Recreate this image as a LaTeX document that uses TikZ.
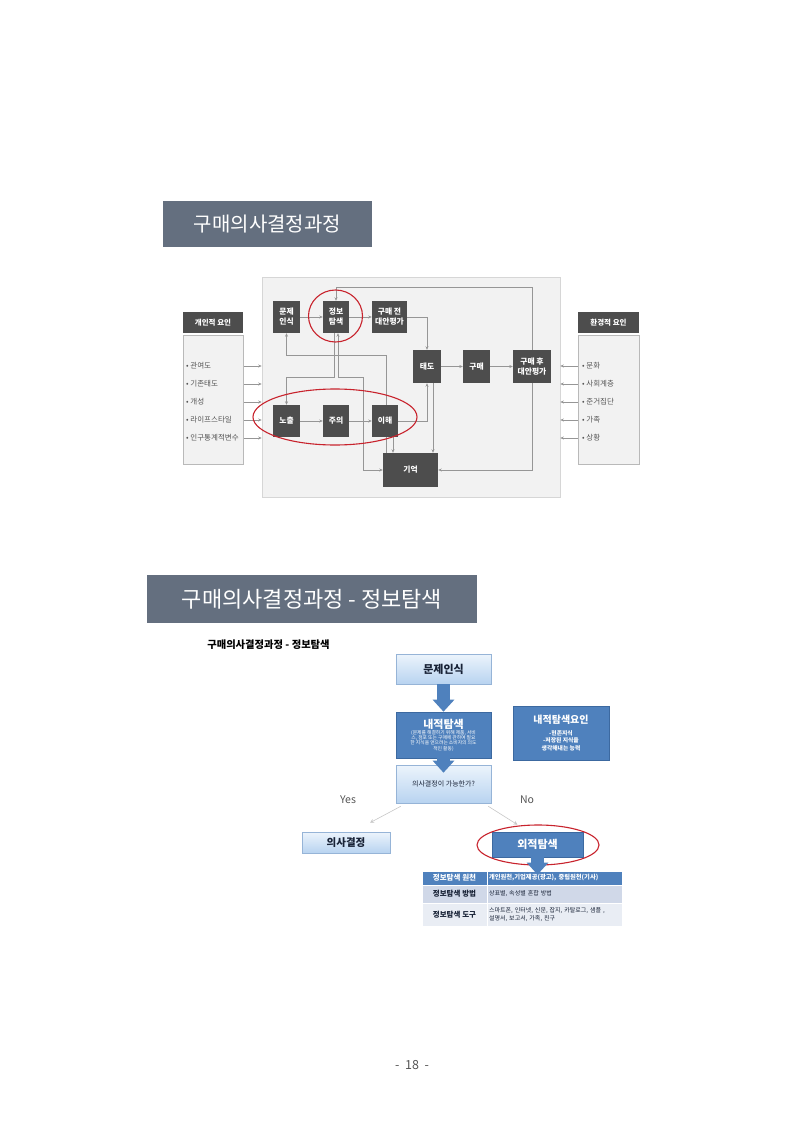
\documentclass[tikz,border=0pt]{standalone}
\usepackage{fontspec}
\setmainfont{Noto Sans CJK KR}
\usetikzlibrary{arrows.meta}
\definecolor{titleSlate}{RGB}{100,111,127}
\definecolor{boxDark}{RGB}{77,77,77}
\definecolor{panelGray}{RGB}{242,242,242}
\definecolor{panelEdge}{RGB}{214,214,214}
\definecolor{listEdge}{RGB}{185,185,185}
\definecolor{lineGray}{RGB}{150,150,150}
\definecolor{itemGray}{RGB}{85,85,85}
\definecolor{ringRed}{RGB}{200,35,45}
\definecolor{stepBlue}{RGB}{79,129,189}
\definecolor{stepEdge}{RGB}{60,105,160}
\definecolor{paleTop}{RGB}{236,244,252}
\definecolor{paleBot}{RGB}{184,211,240}
\definecolor{paleEdge}{RGB}{150,180,215}
\definecolor{navyText}{RGB}{25,35,55}
\definecolor{rowMid}{RGB}{208,216,232}
\definecolor{rowLow}{RGB}{233,237,244}
\definecolor{hintGray}{RGB}{200,200,200}

\pgfdeclarelayer{back}
\pgfdeclarelayer{lines}
\pgfsetlayers{back,lines,main}

\begin{document}
\begin{tikzpicture}[x=1pt,y=-1pt,
  every node/.style={inner sep=0pt},
  titlebox/.style={fill=titleSlate,text=white},
  darkbox/.style={fill=boxDark,text=white,align=center,
    font=\fontsize{7.8}{10}\selectfont\bfseries},
  listbox/.style={fill=panelGray,draw=listEdge,line width=0.6pt},
  listitem/.style={text=itemGray,anchor=west,font=\fontsize{7.5}{8}\selectfont},
  flow/.style={draw=lineGray,line width=0.6pt,-{Stealth[length=3.5pt,width=3pt]}},
  flowboth/.style={draw=lineGray,line width=0.6pt,{Stealth[length=3.5pt,width=3pt]}-{Stealth[length=3.5pt,width=3pt]}},
  ring/.style={draw=ringRed,line width=1.1pt},
  palebox/.style={top color=paleTop,bottom color=paleBot,draw=paleEdge,line width=0.6pt,
    text=navyText,align=center},
  bluebox/.style={fill=stepBlue,draw=stepEdge,line width=0.6pt,text=white,align=center},
  barrow/.style={draw=stepBlue,line width=13pt,-{Triangle[width=21pt,length=12pt]}},
  hint/.style={draw=hintGray,line width=0.6pt,-{Stealth[length=4pt,width=4pt]}},
  tcell/.style={draw=white,line width=0.8pt}]

\begin{pgfonlayer}{back}
  \fill[white] (0,0) rectangle (800,1131);
  \node[fill=panelGray,draw=panelEdge,line width=0.6pt,minimum width=298pt,minimum height=220pt] (panel) at (411,387) {};
\end{pgfonlayer}
\useasboundingbox (0,0) rectangle (800,1131);

% first section
\node[titlebox,minimum width=209pt,minimum height=46pt,font=\fontsize{20}{22}\selectfont] (t1) at (267.5,224) {구매의사결정과정};

\node[fill=boxDark,text=white,minimum width=60pt,minimum height=21pt,font=\fontsize{7.5}{9}\selectfont\bfseries] (pf) at (213,322.5) {개인적 요인};
\node[listbox,minimum width=60pt,minimum height=129pt] (pl) at (213,399.5) {};
\foreach \t [count=\i] in {관여도,기존태도,개성,라이프스타일,인구통계적변수}
  \node[listitem] (pi\i) at (186,348+18*\i) {• \t};

\node[fill=boxDark,text=white,minimum width=61pt,minimum height=21pt,font=\fontsize{7.5}{9}\selectfont\bfseries] (ef) at (608.5,322.5) {환경적 요인};
\node[listbox,minimum width=61pt,minimum height=129pt] (el) at (608.5,399.5) {};
\foreach \t [count=\i] in {문화,사회계층,준거집단,가족,상황}
  \node[listitem] (ei\i) at (582,348+18*\i) {• \t};

\node[darkbox,minimum width=27pt,minimum height=32pt] (pr) at (286.5,317) {문제\\인식};
\node[darkbox,minimum width=26pt,minimum height=32pt] (ps) at (336,317) {정보\\탐색};
\node[darkbox,minimum width=35pt,minimum height=32pt] (pe) at (389.5,317) {구매 전\\대안평가};
\node[darkbox,minimum width=27pt,minimum height=32pt] (ex) at (286.5,421) {노출};
\node[darkbox,minimum width=26pt,minimum height=32pt] (at) at (336,421) {주의};
\node[darkbox,minimum width=26pt,minimum height=32pt] (co) at (385,421) {이해};
\node[darkbox,minimum width=28pt,minimum height=33pt] (tt) at (427,366.5) {태도};
\node[darkbox,minimum width=27pt,minimum height=33pt] (bu) at (476.5,366.5) {구매};
\node[darkbox,minimum width=38pt,minimum height=33pt] (po) at (532,366.5) {구매 후\\대안평가};
\node[darkbox,minimum width=55pt,minimum height=34pt] (me) at (410.5,470) {기억};

\begin{pgfonlayer}{lines}
  \foreach \i in {1,...,5} {
    \draw[flow] (pl.east |- pi\i) -- (panel.west |- pi\i);
    \draw[flow] (el.west |- ei\i) -- (panel.east |- ei\i);
  }
  \draw[flow] (pr) -- (ps);
  \draw[flow] (ps) -- (pe);
  \draw[flow] (pe.east) -| (tt.north);
  \draw[flow] (tt) -- (bu);
  \draw[flow] (bu) -- (po);
  \draw[flow] (po.north) -- ++(0,-62) -| (ps.north);
  \draw[flow] (po.south) |- (me.east);
  \draw[flow] (ex) -- (at);
  \draw[flow] (at) -- (co);
  \draw[flow] (co.east) -| (tt.south);
  \draw[flow] ([xshift=6pt]tt.south) -- ([xshift=6pt]tt.south |- me.north);
  \draw[flow] ([xshift=8pt]co.south) -- ([xshift=8pt]co.south |- me.north);
  \draw[flow] ([xshift=1pt]co.south |- me.north) -- ++(0,-98) -| (pr.south);
  \draw[flow] ([xshift=-1.5pt]ps.south) -- ++(0,44) -| (ex.north);
  \draw[flowboth] ([xshift=2pt]ps.south) -- ++(0,44) -- ++(25,0) |- (me.west);
\end{pgfonlayer}

\draw[ring] (335.5,316) ellipse [x radius=27pt, y radius=26pt];
\draw[ring] (335,417) ellipse [x radius=82pt, y radius=28pt];

% second section
\node[titlebox,minimum width=330pt,minimum height=48pt,font=\fontsize{22}{24}\selectfont] (t2) at (312,599) {구매의사결정과정 - 정보탐색};
\node[font=\fontsize{10.3}{12}\selectfont\bfseries] (sub) at (268.5,645) {구매의사결정과정 - 정보탐색};

\node[palebox,minimum width=95pt,minimum height=30pt,font=\fontsize{11}{13}\selectfont\bfseries] (q1) at (443.5,669) {문제인식};
\node[bluebox,minimum width=95pt,minimum height=46pt,font=\fontsize{4.8}{5.2}\selectfont] (q2) at (443.5,735)
  {{\fontsize{11}{13}\selectfont\bfseries 내적탐색}\\[1pt](문제를 해결하기 위해 제품, 서비\\스, 점포 또는 구매에 관하여 필요\\한 지식을 얻으려는 소비자의 의도\\적인 활동)};
\node[palebox,minimum width=95pt,minimum height=38pt,font=\fontsize{7}{9}\selectfont] (q3) at (443.5,784) {의사결정이 가능한가?};
\node[bluebox,minimum width=96pt,minimum height=54pt,font=\fontsize{5.8}{7.5}\selectfont\bfseries] (q4) at (561,733)
  {{\fontsize{10}{12}\selectfont\bfseries 내적탐색요인}\\[4pt]-현존지식\\-저장된 지식을\\생각해내는 능력};
\node[palebox,minimum width=88pt,minimum height=21pt,font=\fontsize{10.5}{12}\selectfont\bfseries] (q5) at (346,842.5) {의사결정};
\node[bluebox,minimum width=91pt,minimum height=25pt,font=\fontsize{11}{13}\selectfont\bfseries] (q6) at (537.5,844.5) {외적탐색};

\node[text=itemGray,font=\fontsize{10.5}{12}\selectfont] (yes) at (348,800) {Yes};
\node[text=itemGray,font=\fontsize{10.5}{12}\selectfont] (no) at (527,800) {No};

\draw[hint] ([xshift=5pt,yshift=-3pt]q3.south west) -- ([xshift=24pt,yshift=9pt]q5.north);
\draw[hint] ([xshift=-3pt,yshift=-3pt]q3.south east) -- ([xshift=-20pt,yshift=7pt]q6.north);

\draw[barrow] (q1.south) -- (q2.north);
\draw[barrow] (q2.south) -- ([yshift=-8pt]q3.north);

% table
\node[tcell,fill=stepBlue,text=white,minimum width=65pt,minimum height=14pt,font=\fontsize{7.5}{9}\selectfont\bfseries] (c11) at (454.5,878) {정보탐색 원천};
\node[tcell,fill=stepBlue,text=white,text width=131pt,inner xsep=2pt,minimum height=14pt,align=left,font=\fontsize{6.3}{7.5}\selectfont\bfseries] (c12) at (554.5,878) {개인원천,기업제공(광고), 중립원천(기사)};
\node[tcell,fill=rowMid,text=navyText,minimum width=65pt,minimum height=18pt,font=\fontsize{7.5}{9}\selectfont\bfseries] (c21) at (454.5,894) {정보탐색 방법};
\node[tcell,fill=rowMid,text=navyText,text width=131pt,inner xsep=2pt,minimum height=18pt,align=left,font=\fontsize{6}{7}\selectfont] (c22) at (554.5,894) {상표별, 속성별 혼합 방법};
\node[tcell,fill=rowLow,text=navyText,minimum width=65pt,minimum height=23pt,font=\fontsize{7.5}{9}\selectfont\bfseries] (c31) at (454.5,914.5) {정보탐색 도구};
\node[tcell,fill=rowLow,text=navyText,text width=131pt,inner xsep=2pt,minimum height=23pt,align=left,font=\fontsize{6}{7.5}\selectfont] (c32) at (554.5,914.5) {스마트폰, 인터넷, 신문, 잡지, 카탈로그, 샘플 ,\\설명서, 보고서, 가족, 친구};

\draw[ring] (538,845) ellipse [x radius=61pt, y radius=20pt];
\draw[barrow] (q6.south) -- ([yshift=-4pt]q6.south |- c12.north);

\node[text=itemGray,font=\fontsize{12.5}{14}\selectfont] (pg) at (412,1065) {-\ \ 18\ \ -};
\end{tikzpicture}
\end{document}
